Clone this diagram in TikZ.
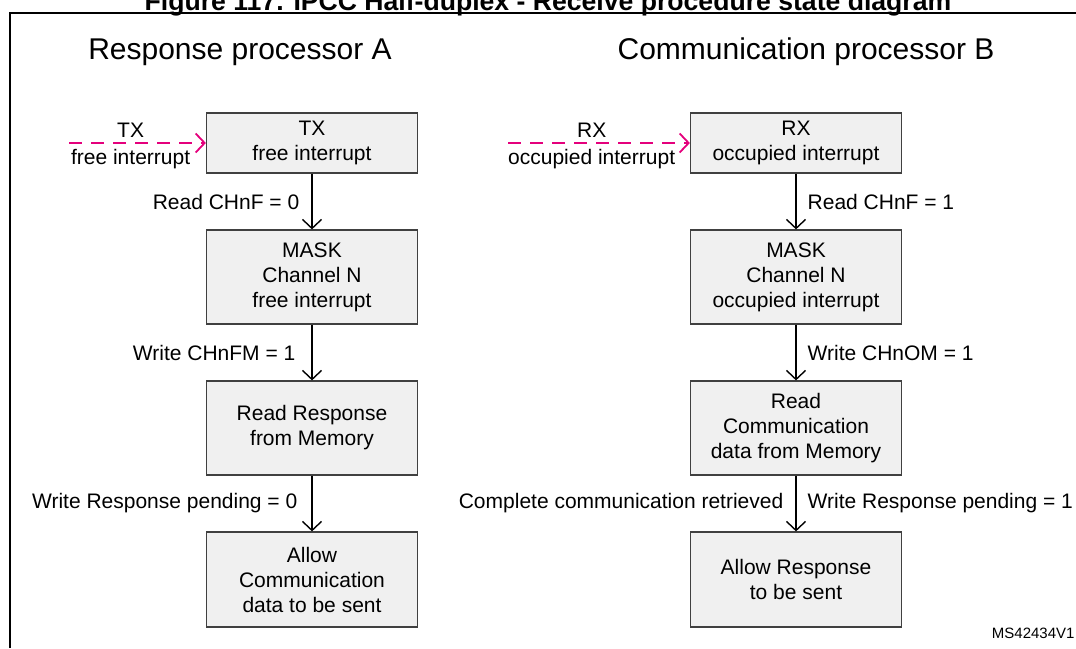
\documentclass[tikz,border=0pt]{standalone}
\usepackage{fontspec}
\setmainfont{Liberation Sans}
\usetikzlibrary{arrows.meta}
\definecolor{stpink}{RGB}{228,0,124}

\begin{document}
\begin{tikzpicture}[x=1pt, y=-1pt, >={Straight Barb[length=9pt,width=19pt]},
  state/.style={draw=black!75, line width=1.2pt, fill=black!6, minimum width=211pt, align=center, inner sep=0pt, font=\fontsize{21}{25}\selectfont},
  lbl/.style={inner sep=0pt, text=black, font=\fontsize{21}{25}\selectfont},
  flow/.style={->, line width=1.4pt},
  irq/.style={->, stpink, line width=1.8pt, dash pattern=on 13pt off 9pt}]
 \useasboundingbox (0,0) rectangle (1076,648);
 \node[anchor=base, font=\fontsize{26.6}{30}\selectfont\bfseries] (title) at (548,10.5) {Figure 117. IPCC Half-duplex - Receive procedure state diagram};
 \draw[line width=2pt] (10,648) -- (10,13) -- (1076,13);
 \node[font=\fontsize{30}{35}\selectfont] (procA) at (240,52) {Response processor A};
 \node[font=\fontsize{30}{35}\selectfont, anchor=east] (procB) at (998,52) {Communication processor B};
 % processor A
 \node[state, minimum height=60pt] (txirq) at (312,143) {TX\\free interrupt};
 \node[state, minimum height=94pt] (maskA) at (312,277) {MASK\\Channel N\\free interrupt};
 \node[state, minimum height=94pt] (readA) at (312,428) {Read Response\\from Memory};
 \node[state, minimum height=95pt] (allowA) at (312,579.5) {Allow\\Communication\\data to be sent};
 \coordinate (txin) at (69,143);
 \draw[irq] (txin) -- (txirq) node[lbl, pos=0.45, above=5pt] {TX} node[lbl, pos=0.45, below=5pt] {free interrupt};
 \draw[flow] (txirq) -- (maskA) node[lbl, midway, left=12pt] {Read CHnF = 0};
 \draw[flow] (maskA) -- (readA) node[lbl, midway, left=16pt] {Write CHnFM = 1};
 \draw[flow] (readA) -- (allowA) node[lbl, midway, left=14pt] {Write Response pending = 0};
 % processor B
 \node[state, minimum height=60pt] (rxirq) at (796,143) {RX\\occupied interrupt};
 \node[state, minimum height=94pt] (maskB) at (796,277) {MASK\\Channel N\\occupied interrupt};
 \node[state, minimum height=94pt] (readB) at (796,428) {Read\\Communication\\data from Memory};
 \node[state, minimum height=95pt] (allowB) at (796,579.5) {Allow Response\\to be sent};
 \coordinate (rxin) at (508,143);
 \draw[irq] (rxin) -- (rxirq) node[lbl, pos=0.46, above=5pt] {RX} node[lbl, pos=0.46, below=5pt] {occupied interrupt};
 \draw[flow] (rxirq) -- (maskB) node[lbl, midway, right=11pt] {Read CHnF = 1};
 \draw[flow] (maskB) -- (readB) node[lbl, midway, right=11pt] {Write CHnOM = 1};
 \draw[flow] (readB) -- (allowB) node[lbl, midway, left=12pt] {Complete communication retrieved}
   node[lbl, midway, right=11pt] {Write Response pending = 1};
 \node[anchor=base east, font=\fontsize{15}{18}\selectfont] (ref) at (1078,638) {MS42434V1};
\end{tikzpicture}
\end{document}
